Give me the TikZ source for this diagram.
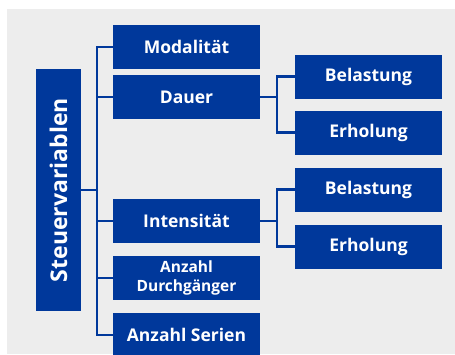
\documentclass[tikz,border=0pt]{standalone}
\usepackage{fontspec}
\setmainfont{Open Sans}
\usetikzlibrary{positioning}
\definecolor{boxblue}{RGB}{0, 56, 155}
\definecolor{panelgray}{RGB}{237, 237, 237}

\begin{document}
\begin{tikzpicture}[
    x=1pt, y=1pt,
    varbox/.style={fill=boxblue, text=white, minimum width=147pt, minimum height=44pt, inner sep=2pt, outer sep=0pt, font=\fontsize{17.5}{20}\selectfont\bfseries, align=center},
    smallbox/.style={varbox, font=\fontsize{15.5}{18.5}\selectfont\bfseries},
    rootbox/.style={varbox, rotate=90, minimum width=242pt, minimum height=45pt, font=\fontsize{23}{26}\selectfont\bfseries},
    link/.style={draw=boxblue, line width=2.8pt}
]
    % Panel and picture size
    \useasboundingbox (0,0) rectangle (455,-354);
    \fill[panelgray] (7,-9) rectangle (455,-354);

    % Root node
    \node[rootbox] (steuer) at (58.5,-190) {Steuervariablen};

    % Nodes - middle column
    \node[varbox] (modal) at (186.5,-47) {Modalität};
    \node[varbox, below=6pt of modal] (dauer) {Dauer};
    \node[varbox, below=80pt of dauer] (intens) {Intensität};
    \node[smallbox, below=13pt of intens] (durch) {Anzahl\\Durchgänger};
    \node[varbox, below=13pt of durch] (serien) {Anzahl Serien};

    % Nodes - right column
    \node[varbox] (belast1) at (368.5,-76.5) {Belastung};
    \node[varbox, below=12pt of belast1] (erhol1) {Erholung};
    \node[varbox, below=13pt of erhol1] (belast2) {Belastung};
    \node[varbox, below=13pt of belast2] (erhol2) {Erholung};

    % Bracket lines
    \coordinate (spine) at (97,0);
    \coordinate (subspine) at (277,0);
    \draw[link] (steuer.south) -- (steuer.south -| spine);
    \draw[link] (modal.west) -- (modal.west -| spine) -- (serien.west -| spine) -- (serien.west);
    \draw[link] (dauer.west) -- (dauer.west -| spine);
    \draw[link] (intens.west) -- (intens.west -| spine);
    \draw[link] (durch.west) -- (durch.west -| spine);

    \draw[link] (dauer.east) -- (dauer.east -| subspine);
    \draw[link] (belast1.west) -- (belast1.west -| subspine) -- (erhol1.west -| subspine) -- (erhol1.west);
    \draw[link] (intens.east) -- (intens.east -| subspine);
    \draw[link] (belast2.west) -- (belast2.west -| subspine) -- (erhol2.west -| subspine) -- (erhol2.west);
\end{tikzpicture}
\end{document}
